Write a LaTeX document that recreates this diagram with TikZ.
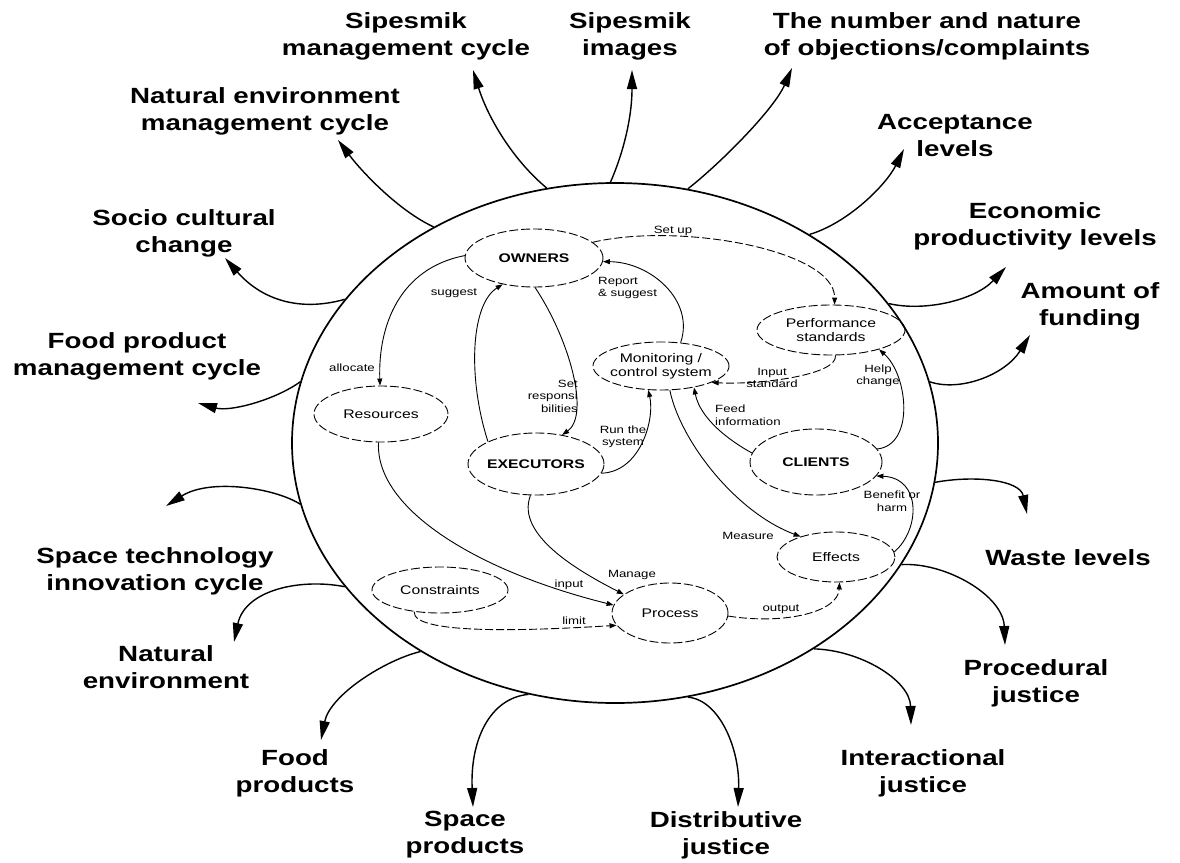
\documentclass[tikz,border=0pt]{standalone}
\usepackage{fontspec}
\setmainfont{Liberation Sans}
\newfontfamily\lblfont{Liberation Sans}[FakeStretch=1.26]
\usetikzlibrary{arrows.meta,shapes.geometric}

\begin{document}
\begin{tikzpicture}[x=1pt,y=-1pt,
  rim/.style={draw, ellipse, line width=1.7pt, minimum width=646pt, minimum height=520pt, inner sep=0pt},
  actor/.style={draw, ellipse, dash pattern=on 9pt off 3pt, line width=0.9pt, inner sep=0pt, inner xsep=-4pt,
    font=\lblfont\fontsize{12.5}{14}\selectfont, align=center},
  outlabel/.style={font=\lblfont\bfseries\fontsize{22}{27}\selectfont, align=center, inner sep=0pt},
  outarrow/.style={line width=1.4pt, -{Triangle[length=19pt,width=10pt]}},
  flow/.style={line width=0.9pt, -{Triangle[length=7pt,width=5pt]}},
  flowdash/.style={flow, dash pattern=on 8pt off 3pt},
  tag/.style={font=\lblfont\fontsize{10.5}{12.5}\selectfont, inner sep=0pt, align=center},
]
\useasboundingbox (0,0) rectangle (1180,862);

% the system boundary
\node[rim] (sys) at (615,443) {};

% actors and elements inside the system
\node[actor, minimum width=138pt, minimum height=58pt] (own) at (534,258) {\bfseries OWNERS};
\node[actor, minimum width=134pt, minimum height=56pt] (res) at (381,414) {Resources};
\node[actor, minimum width=136pt, minimum height=62pt] (exe) at (536,464) {\bfseries EXECUTORS};
\node[actor, minimum width=136pt, minimum height=46pt] (con) at (440,590) {Constraints};
\node[actor, minimum width=116pt, minimum height=60pt] (pro) at (670,613) {Process};
\node[actor, minimum width=118pt, minimum height=50pt] (eff) at (836,557) {Effects};
\node[actor, minimum width=132pt, minimum height=66pt] (cli) at (816,462) {\bfseries CLIENTS};
\node[actor, minimum width=148pt, minimum height=50pt] (per) at (831,330) {Performance\\standards};
\node[actor, minimum width=136pt, minimum height=48pt] (mon) at (661,366) {Monitoring /\\control system};

% internal flows
\draw[flowdash] (own.15) .. controls (680,222) and (835,250) .. (per.82);
\draw[flow] (mon.50) .. controls (695,300) and (650,262) .. (own.-3);
\draw[flowdash] (per.-80) .. controls (838,375) and (760,385) .. (mon.-18);
\draw[flow] (cli.12) .. controls (915,445) and (908,375) .. (per.-22);
\draw[flow] (cli.172) .. controls (728,440) and (700,418) .. (mon.-33);
\draw[flow] (mon.-70) .. controls (680,440) and (735,512) .. (eff.150);
\draw[flow] (exe.-8) .. controls (640,472) and (655,420) .. (mon.-118);
\draw[flow] (eff.5) .. controls (920,530) and (922,478) .. (cli.-13);
\draw[flowdash] (pro.-3) .. controls (785,625) and (838,612) .. (eff.-82);
\draw[flow] (exe.-100) .. controls (515,535) and (580,572) .. (pro.158);
\draw[flow] (res.-95) .. controls (375,510) and (480,572) .. (pro.172);
\draw[flowdash] (con.-140) .. controls (412,636) and (540,630) .. (pro.-167);
\draw[flow] (own.178) .. controls (400,268) and (378,325) .. (res.92);
\draw[flow] (exe.155) .. controls (468,380) and (470,305) .. (own.-140);
\draw[flow] (own.-88) .. controls (570,340) and (590,415) .. (exe.48);

% flow labels
\node[tag] (tSet) at (673,231) {Set up};
\node[tag, anchor=west, align=left] (tRep) at (598,288) {Report\\\& suggest};
\node[tag] (tInp) at (772,378) {Input\\standard};
\node[tag] (tHelp) at (878,376) {Help\\change};
\node[tag, anchor=west, align=left] (tFeed) at (715,415) {Feed\\information};
\node[tag] (tMeas) at (748,536) {Measure};
\node[tag] (tRun) at (623,437) {Run the\\system};
\node[tag] (tBen) at (892,501) {Benefit or\\harm};
\node[tag] (tOut) at (781,609) {output};
\node[tag] (tMan) at (632,575) {Manage};
\node[tag] (tIn) at (569,585) {input};
\node[tag] (tLim) at (574,621) {limit};
\node[tag] (tAll) at (352,368) {allocate};
\node[tag] (tSug) at (454,293) {suggest};
\node[tag, anchor=east, align=right] (tResp) at (578,396) {Set\\responsi\\bilities};

% outcome labels around the system
\node[outlabel] (o1) at (406,36) {Sipesmik\\management cycle};
\node[outlabel] (o2) at (630,36) {Sipesmik\\images};
\node[outlabel] (o3) at (927,36) {The number and nature\\of objections/complaints};
\node[outlabel] (o4) at (265,111) {Natural environment\\management cycle};
\node[outlabel] (o5) at (955,136) {Acceptance\\levels};
\node[outlabel] (o6) at (184,233) {Socio cultural\\change};
\node[outlabel] (o7) at (1035,226) {Economic\\productivity levels};
\node[outlabel] (o8) at (137,356) {Food product\\management cycle};
\node[outlabel] (o9) at (1090,306) {Amount of\\funding};
\node[outlabel] (o10) at (155,571) {Space technology\\innovation cycle};
\node[outlabel] (o11) at (1068,558) {Waste levels};
\node[outlabel] (o12) at (166,667) {Natural\\environment};
\node[outlabel] (o13) at (1036,683) {Procedural\\justice};
\node[outlabel] (o14) at (295,773) {Food\\products};
\node[outlabel] (o15) at (923,773) {Interactional\\justice};
\node[outlabel] (o16) at (465,835) {Space\\products};
\node[outlabel] (o17) at (726,835) {Distributive\\justice};

% arrow ends beside the outcome labels
\coordinate (e1) at (473,70);
\coordinate (e2) at (632,70);
\coordinate (e3) at (792,68);
\coordinate (e4) at (338,140);
\coordinate (e5) at (904,149);
\coordinate (e6) at (225,258);
\coordinate (e7) at (1006,267);
\coordinate (e8) at (198,403);
\coordinate (e9) at (1030,335);
\coordinate (e10) at (166,506);
\coordinate (e11) at (1027,514);
\coordinate (e12) at (234,642);
\coordinate (e13) at (1005,645);
\coordinate (e14) at (321,740);
\coordinate (e15) at (911,725);
\coordinate (e16) at (473,807);
\coordinate (e17) at (738,807);

% outward arrows
\draw[outarrow] (sys.105.2) .. controls (513,160) and (488,118) .. (e1);
\draw[outarrow] (sys.91.8) .. controls (622,156) and (632,120) .. (e2);
\draw[outarrow] (sys.74.3) .. controls (722,162) and (774,109) .. (e3);
\draw[outarrow] (sys.130.2) .. controls (399,211) and (362,172) .. (e4);
\draw[outarrow] (sys.47.2) .. controls (848,223) and (886,185) .. (e5);
\draw[outarrow] (sys.152.3) .. controls (300,312) and (262,300) .. (e6);
\draw[outarrow] (sys.27.9) .. controls (925,312) and (975,300) .. (e7);
\draw[outarrow] (sys.169.4) .. controls (275,400) and (230,412) .. (e8);
\draw[outarrow] (sys.11.8) .. controls (960,392) and (1005,375) .. (e9);
\draw[outarrow] (sys.191.7) .. controls (275,488) and (210,478) .. (e10);
\draw[outarrow] (sys.-7.4) .. controls (975,475) and (1020,480) .. (e11);
\draw[outarrow] (sys.208.5) .. controls (300,578) and (245,590) .. (e12);
\draw[outarrow] (sys.-23.2) .. controls (945,562) and (1003,595) .. (e13);
\draw[outarrow] (sys.227.7) .. controls (385,660) and (330,695) .. (e14);
\draw[outarrow] (sys.-46) .. controls (860,650) and (910,680) .. (e15);
\draw[outarrow] (sys.251.4) .. controls (490,698) and (470,740) .. (e16);
\draw[outarrow] (sys.-74.6) .. controls (720,700) and (740,750) .. (e17);
\end{tikzpicture}
\end{document}
